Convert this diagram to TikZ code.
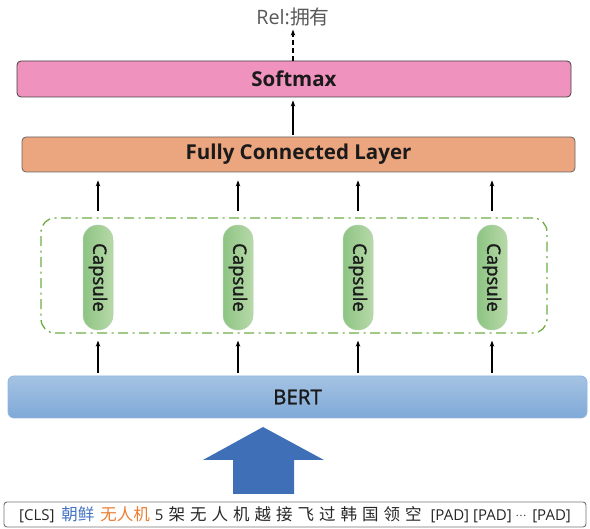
\documentclass[tikz,border=0pt]{standalone}
\usepackage{fontspec}
\setmainfont{Open Sans}
\newfontfamily\cjk{Noto Sans CJK SC}
\newfontfamily\medfont{Open Sans}[FakeBold=1.6]
\usetikzlibrary{arrows.meta}
\definecolor{pinkbox}{HTML}{F092BE}
\definecolor{orangebox}{HTML}{EBA57F}
\definecolor{grpgreen}{HTML}{70AD47}
\definecolor{capL}{HTML}{8DC483}
\definecolor{capR}{HTML}{B7D9A8}
\definecolor{bertT}{HTML}{A5C3E3}
\definecolor{bertB}{HTML}{7FA9D7}
\definecolor{bigblue}{HTML}{3F6FB6}
\definecolor{tokblue}{HTML}{4472C4}
\definecolor{tokorange}{HTML}{ED7D31}
\definecolor{txt}{HTML}{1A1A1A}
\newcommand\tgap{\hspace{5pt}}
\tikzset{
  layerbox/.style={draw=black!75, line width=0.8pt, rounded corners=4pt, inner sep=0pt, text=txt, font=\bfseries\fontsize{20.5}{24}\selectfont},
  capbox/.style={draw=capL!90!black!60, line width=0.5pt, rounded corners=14.9pt, minimum width=30pt, minimum height=105pt, inner sep=0pt, left color=capL, right color=capR},
  arr/.style={-{Stealth[length=6pt,width=4.5pt]}, line width=1.1pt, black},
}
\begin{document}
\begin{tikzpicture}[x=1pt,y=-1pt]
\useasboundingbox (0,0) rectangle (590,529);
% top label
\node[text=black!65, font=\fontsize{19.8}{22}\selectfont] (rel) at (293,17) {Rel:{\cjk 拥有}};
% softmax
\node[layerbox, fill=pinkbox, minimum width=554pt, minimum height=36pt] (soft) at (294,79) {Softmax};
% fully connected
\node[layerbox, draw=black!60, fill=orangebox, minimum width=553pt, minimum height=35pt] (fc) at (298.5,154.5) {Fully Connected Layer};
% capsule group
\node[draw=grpgreen, line width=1.3pt, dash pattern=on 10pt off 4.5pt on 2pt off 4.5pt, rounded corners=14pt, minimum width=506pt, minimum height=115pt, inner sep=0pt] (grp) at (294,275.5) {};
\foreach \i/\x in {1/98,2/238,3/358,4/492}{
  \node[capbox] (c\i) at (\x,277.5) {};
  \node[rotate=-90, text=txt, font=\medfont\fontsize{18.5}{20}\selectfont] at (c\i) {Capsule};
}
% BERT
\node[draw=bertB!85!white, line width=0.8pt, rounded corners=6pt, top color=bertT, bottom color=bertB, minimum width=579pt, minimum height=42pt, inner sep=0pt, text=txt, font=\medfont\fontsize{20.5}{22}\selectfont] (bert) at (297.5,397) {BERT};
% tokens
\node[draw=black!55, line width=0.9pt, rounded corners=3pt, minimum width=582pt, minimum height=25pt, inner sep=0pt, text=black!85, font=\fontsize{15}{16}\selectfont] (tok) at (295,514.5)
 {[CLS]\hspace{7pt}{\cjk\fontsize{16.5}{17}\selectfont\color{tokblue}朝鲜}\hspace{6pt}{\cjk\fontsize{16.5}{17}\selectfont\color{tokorange}无人机}\hspace{5pt}5\hspace{5pt}{\cjk\fontsize{16.5}{17}\selectfont 架\tgap 无\tgap 人\tgap 机\tgap 越\tgap 接\tgap 飞\tgap 过\tgap 韩\tgap 国\tgap 领\tgap 空}\hspace{9pt}[PAD]\hspace{4pt}[PAD]\hspace{4pt}\raisebox{4pt}{\cjk\fontsize{10}{12}\selectfont ⋯}\hspace{6pt}[PAD]};
% big arrow
\fill[bigblue] (263,427) -- (324,460) -- (294,460) -- (294,494) -- (233,494) -- (233,460) -- (203,460) -- cycle;
% arrows
\draw[arr, dash pattern=on 5pt off 3pt] (soft.north -| rel) -- (rel.south);
\draw[arr, shorten <=2pt, shorten >=3pt] (fc.north -| rel) -- (soft.south -| rel);
\foreach \i in {1,2,3,4}{
  \draw[arr, shorten <=6pt, shorten >=8pt] (grp.north -| c\i) -- (fc.south -| c\i);
  \draw[arr, shorten <=3pt, shorten >=7pt] (bert.north -| c\i) -- (grp.south -| c\i);
}
\end{tikzpicture}
\end{document}
